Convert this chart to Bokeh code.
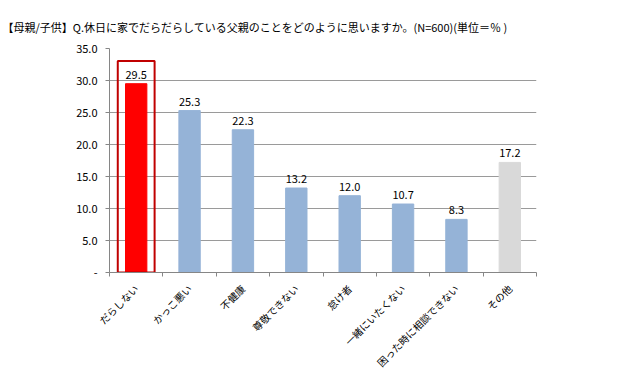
from bokeh.plotting import figure
from bokeh.models import FixedTicker, Range1d, ColumnDataSource
from bokeh.core.properties import value
from bokeh.embed import file_html
from bokeh.resources import INLINE
import math

title_text = "【母親/子供】Q.休日に家でだらだらしている父親のことをどのように思いますか。(N=600)(単位＝％ )"
categories = ["だらしない", "かっこ悪い", "不健康", "尊敬できない", "怠け者",
              "一緒にいたくない", "困った時に相談できない", "その他"]
values = [29.5, 25.3, 22.3, 13.2, 12.0, 10.7, 8.3, 17.2]
colors = ["#FF0000", "#95B3D7", "#95B3D7", "#95B3D7", "#95B3D7", "#95B3D7", "#95B3D7", "#D9D9D9"]
y_ticks = [0, 5, 10, 15, 20, 25, 30, 35]

FONT = "Noto Sans CJK JP"
xs = list(range(len(categories)))

p = figure(frame_width=427, frame_height=224, output_backend="svg", toolbar_location=None,
           x_range=Range1d(-0.5, len(categories) - 0.5), y_range=Range1d(0, 35),
           min_border_left=109, min_border_right=88, min_border_top=48, min_border_bottom=90)
p.outline_line_color = None
p.background_fill_color = "white"

p.title.text = title_text
p.title.text_font = FONT
p.title.text_font_size = "11px"
p.title.text_font_style = "normal"
p.title.text_color = "#000000"
p.title.align = "left"
p.title.offset = -107
p.title.standoff = 28

src = ColumnDataSource(dict(x=xs, top=values, color=colors,
                            label=["%.1f" % v for v in values]))
p.vbar(x="x", top="top", width=0.4, bottom=0, color="color", source=src)

# highlight box around first bar
p.rect(x=[xs[0]], y=[values[0] * 1.12 / 2], width=0.69, height=[values[0] * 1.12],
       fill_color=None, line_color="#C00000", line_width=2)

p.text(x="x", y="top", text="label", source=src, text_align="center",
       text_baseline="bottom", y_offset=-5, text_font=value(FONT),
       text_font_size="11px", text_color="#000000")

# axes
xa = p.xaxis[0]
xa.ticker = FixedTicker(ticks=xs, minor_ticks=[i - 0.5 for i in range(len(categories) + 1)])
xa.major_label_overrides = {i: c for i, c in enumerate(categories)}
xa.major_label_orientation = math.pi / 4
xa.major_label_text_font = FONT
xa.major_label_text_font_size = "10px"
xa.major_label_text_color = "#000000"
xa.major_tick_line_color = None
xa.minor_tick_line_color = "#868686"
xa.minor_tick_out = 4
xa.minor_tick_in = 0
xa.axis_line_color = "#868686"
xa.major_label_standoff = 8

ya = p.yaxis[0]
ya.ticker = FixedTicker(ticks=y_ticks)
ya.major_label_overrides = {t: ("-" if t == 0 else "%.1f" % t) for t in y_ticks}
ya.major_label_text_font = FONT
ya.major_label_text_font_size = "11px"
ya.major_label_text_color = "#000000"
ya.major_tick_line_color = "#868686"
ya.major_tick_out = 4
ya.major_tick_in = 0
ya.minor_tick_line_color = None
ya.axis_line_color = "#868686"
ya.major_label_standoff = 8

p.xgrid.grid_line_color = None
p.ygrid.ticker = FixedTicker(ticks=y_ticks)
p.ygrid.grid_line_color = "#9a9a9a"

open("out.html", "w").write(file_html(p, INLINE))
